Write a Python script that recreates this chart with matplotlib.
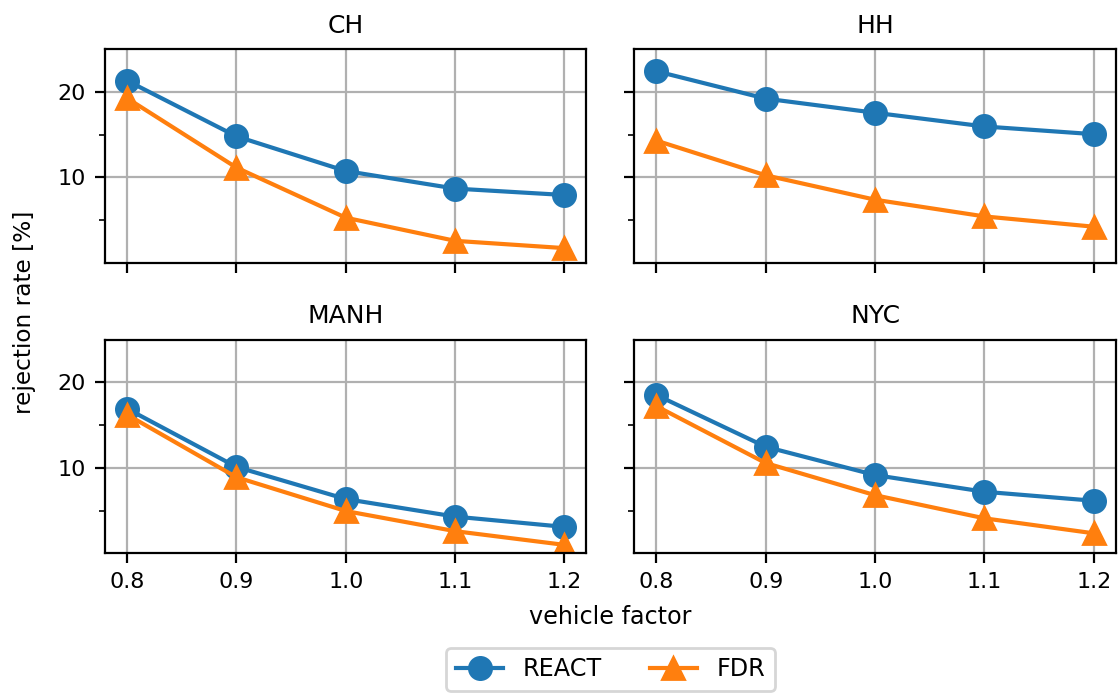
import matplotlib
matplotlib.use("Agg")
import matplotlib.pyplot as plt

vehicle_factor = [0.8, 0.9, 1.0, 1.1, 1.2]
regions = ["CH", "HH", "MANH", "NYC"]

react = {
    "CH":   [21.3, 14.8, 10.75, 8.7, 7.95],
    "HH":   [22.4, 19.2, 17.55, 15.95, 15.05],
    "MANH": [16.9, 10.1, 6.35, 4.3, 3.1],
    "NYC":  [18.5, 12.45, 9.15, 7.2, 6.15],
}
fdr = {
    "CH":   [19.25, 11.15, 5.3, 2.6, 1.75],
    "HH":   [14.3, 10.25, 7.4, 5.45, 4.25],
    "MANH": [16.2, 8.9, 4.95, 2.6, 1.0],
    "NYC":  [17.2, 10.55, 6.8, 4.1, 2.35],
}
series_labels = ["REACT", "FDR"]

plt.rcParams["font.size"] = 8

fig, axes = plt.subplots(2, 2, sharex=True, sharey=True, figsize=(5.595, 3.465), dpi=200)
fig.subplots_adjust(left=0.094, right=0.997, top=0.929, bottom=0.202, wspace=0.10, hspace=0.36)

for ax, reg in zip(axes.flat, regions):
    l1, = ax.plot(vehicle_factor, react[reg], marker="o", markersize=8, lw=1.5,
                  color="#1f77b4", label=series_labels[0])
    l2, = ax.plot(vehicle_factor, fdr[reg], marker="^", markersize=8, lw=1.5,
                  color="#ff7f0e", label=series_labels[1])
    ax.set_title(reg, fontsize=9)
    ax.grid(True, color="#b0b0b0", lw=0.8)
    ax.set_axisbelow(True)

axes[0, 0].set_ylim(0.05, 24.97)
axes[0, 0].set_yticks([10, 20])
axes[0, 0].set_yticks([5, 15], minor=True)
axes[0, 0].set_xticks(vehicle_factor)
axes[0, 0].set_xticklabels(["0.8", "0.9", "1.0", "1.1", "1.2"])

fig.text(0.5455, 0.109, "vehicle factor", ha="center", va="center", fontsize=8.6)
fig.text(0.022, 0.55, "rejection rate [%]", ha="center", va="center", rotation=90, fontsize=8.4)

fig.legend([l1, l2], series_labels, loc="lower center", ncol=2,
           bbox_to_anchor=(0.5455, 0.003), borderaxespad=0, fontsize=8.6)

fig.savefig("out.png", dpi=200)
